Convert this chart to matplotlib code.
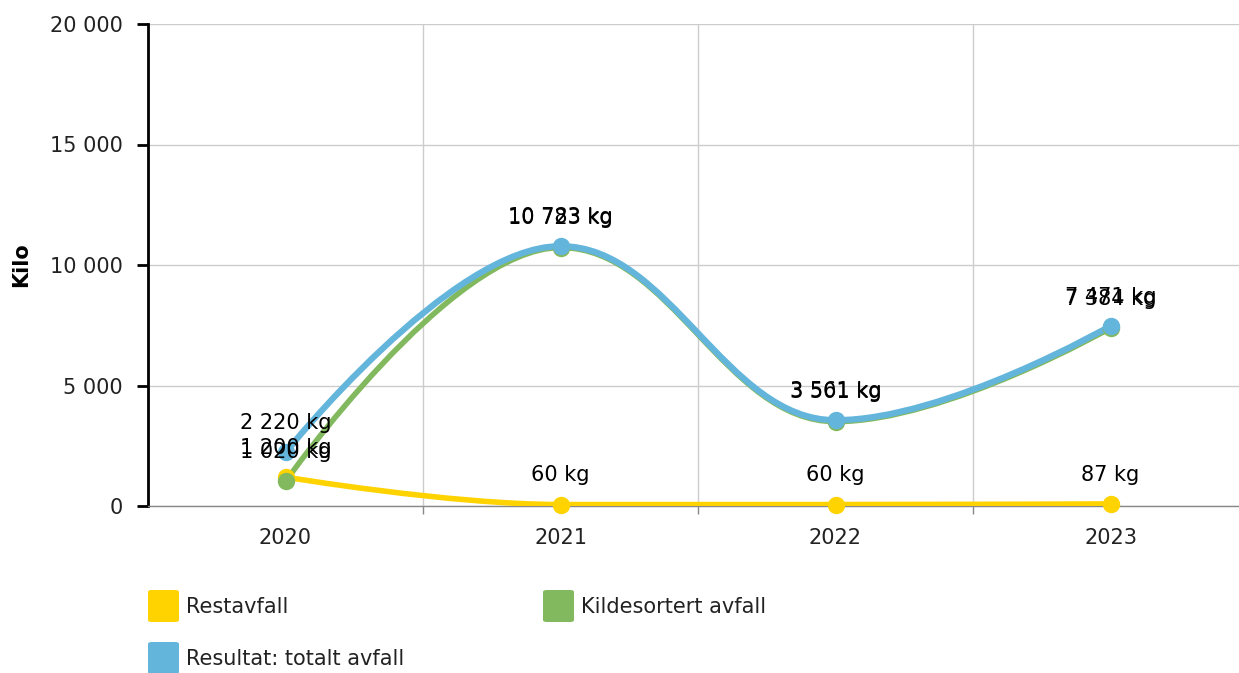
import numpy as np
import matplotlib
matplotlib.use("Agg")
import matplotlib.pyplot as plt
from matplotlib.path import Path
from matplotlib.patches import PathPatch, FancyBboxPatch

years = ["2020", "2021", "2022", "2023"]
restavfall = [1200, 60, 60, 87]
kildesortert = [1020, 10723, 3501, 7384]
totalt = [2220, 10783, 3561, 7471]
series_names = ["Restavfall", "Kildesortert avfall", "Resultat: totalt avfall"]
colors = ["#FFD300", "#82B95E", "#64B5DC"]
yticks = [0, 5000, 10000, 15000, 20000]

def fmt(v):
    return f"{v:,}".replace(",", " ")

def spline_path(xs, ys, smoothing=1.5):
    n = len(xs)
    lc = [(xs[i], ys[i]) for i in range(n)]
    rc = [(xs[i], ys[i]) for i in range(n)]
    d = smoothing + 1
    for i in range(1, n - 1):
        px, py = xs[i], ys[i]
        lx, ly = xs[i - 1], ys[i - 1]
        nx, ny = xs[i + 1], ys[i + 1]
        lcx = (smoothing * px + lx) / d
        lcy = (smoothing * py + ly) / d
        rcx = (smoothing * px + nx) / d
        rcy = (smoothing * py + ny) / d
        if rcx != lcx:
            corr = ((rcy - lcy) * (rcx - px)) / (rcx - lcx) + py - rcy
            lcy += corr
            rcy += corr
        if lcy > ly and lcy > py:
            lcy = max(ly, py); rcy = 2 * py - lcy
        elif lcy < ly and lcy < py:
            lcy = min(ly, py); rcy = 2 * py - lcy
        if rcy > ny and rcy > py:
            rcy = max(ny, py); lcy = 2 * py - rcy
        elif rcy < ny and rcy < py:
            rcy = min(ny, py); lcy = 2 * py - rcy
        lc[i] = (lcx, lcy)
        rc[i] = (rcx, rcy)
    verts = [(xs[0], ys[0])]
    codes = [Path.MOVETO]
    for i in range(1, n):
        verts += [rc[i - 1], lc[i], (xs[i], ys[i])]
        codes += [Path.CURVE4] * 3
    return Path(verts, codes)

FS = 15
plt.rcParams['font.family'] = ['DejaVu Sans']
fig = plt.figure(figsize=(12.39, 6.73), dpi=100)
ax = fig.add_axes([148/1239, 1 - 506/673, 1100/1239, (506-24)/673])

x = np.arange(len(years))
ax.set_xlim(-0.5, 3.5)
ax.set_ylim(0, 20000)

ax.set_yticks(yticks)
ax.set_yticklabels([fmt(v) for v in yticks], fontsize=FS, color="#222222")
ax.set_xticks(x)
ax.set_xticklabels(years, fontsize=FS, color="#222222")
ax.set_xticks(np.arange(len(years)) + 0.5, minor=True)
ax.tick_params(axis='x', which='major', length=0, pad=16)
ax.tick_params(axis='x', which='minor', length=6, color="#888888", width=1)
ax.tick_params(axis='y', length=8, width=2, color="black", pad=10)

ax.grid(axis='y', color="#cccccc", linewidth=1)
ax.grid(axis='x', which='minor', color="#cccccc", linewidth=1)
ax.set_axisbelow(True)
for s in ["top", "right"]:
    ax.spines[s].set_visible(False)
ax.spines["left"].set_linewidth(2)
ax.spines["left"].set_color("black")
ax.spines["bottom"].set_color("#888888")
ax.spines["bottom"].set_linewidth(1)

ax.set_ylabel("Kilo", fontsize=FS, fontweight="bold", labelpad=14)

data = [restavfall, kildesortert, totalt]
lws = [4.0, 4.0, 4.5]
for vals, c, lw in zip(data, colors, lws):
    p = spline_path(list(x.astype(float)), [float(v) for v in vals])
    ax.add_patch(PathPatch(p, facecolor="none", edgecolor=c, lw=lw, capstyle="round", joinstyle="round", zorder=3))
    ax.plot(x, vals, "o", color=c, markersize=11.5, zorder=4, clip_on=False)
    for xi, v in zip(x, vals):
        ax.annotate(f"{fmt(v)} kg", (xi, v), xytext=(0, 21), textcoords="offset points",
                    ha="center", va="center", fontsize=FS, color="black", zorder=6)

# legend
leg = [(148, 590, 0), (543, 590, 1), (148, 642, 2)]
for lx, ly, i in leg:
    fig.patches.append(FancyBboxPatch((lx/1239, 1 - (ly+32)/673), 31/1239, 32/673,
                       boxstyle="round,pad=0,rounding_size=0.003", transform=fig.transFigure,
                       facecolor=colors[i], edgecolor="none"))
    fig.text((lx+38)/1239, 1 - (ly+17)/673, series_names[i], fontsize=FS, va="center", ha="left", color="#222222")

fig.savefig("out.png", dpi=100)
